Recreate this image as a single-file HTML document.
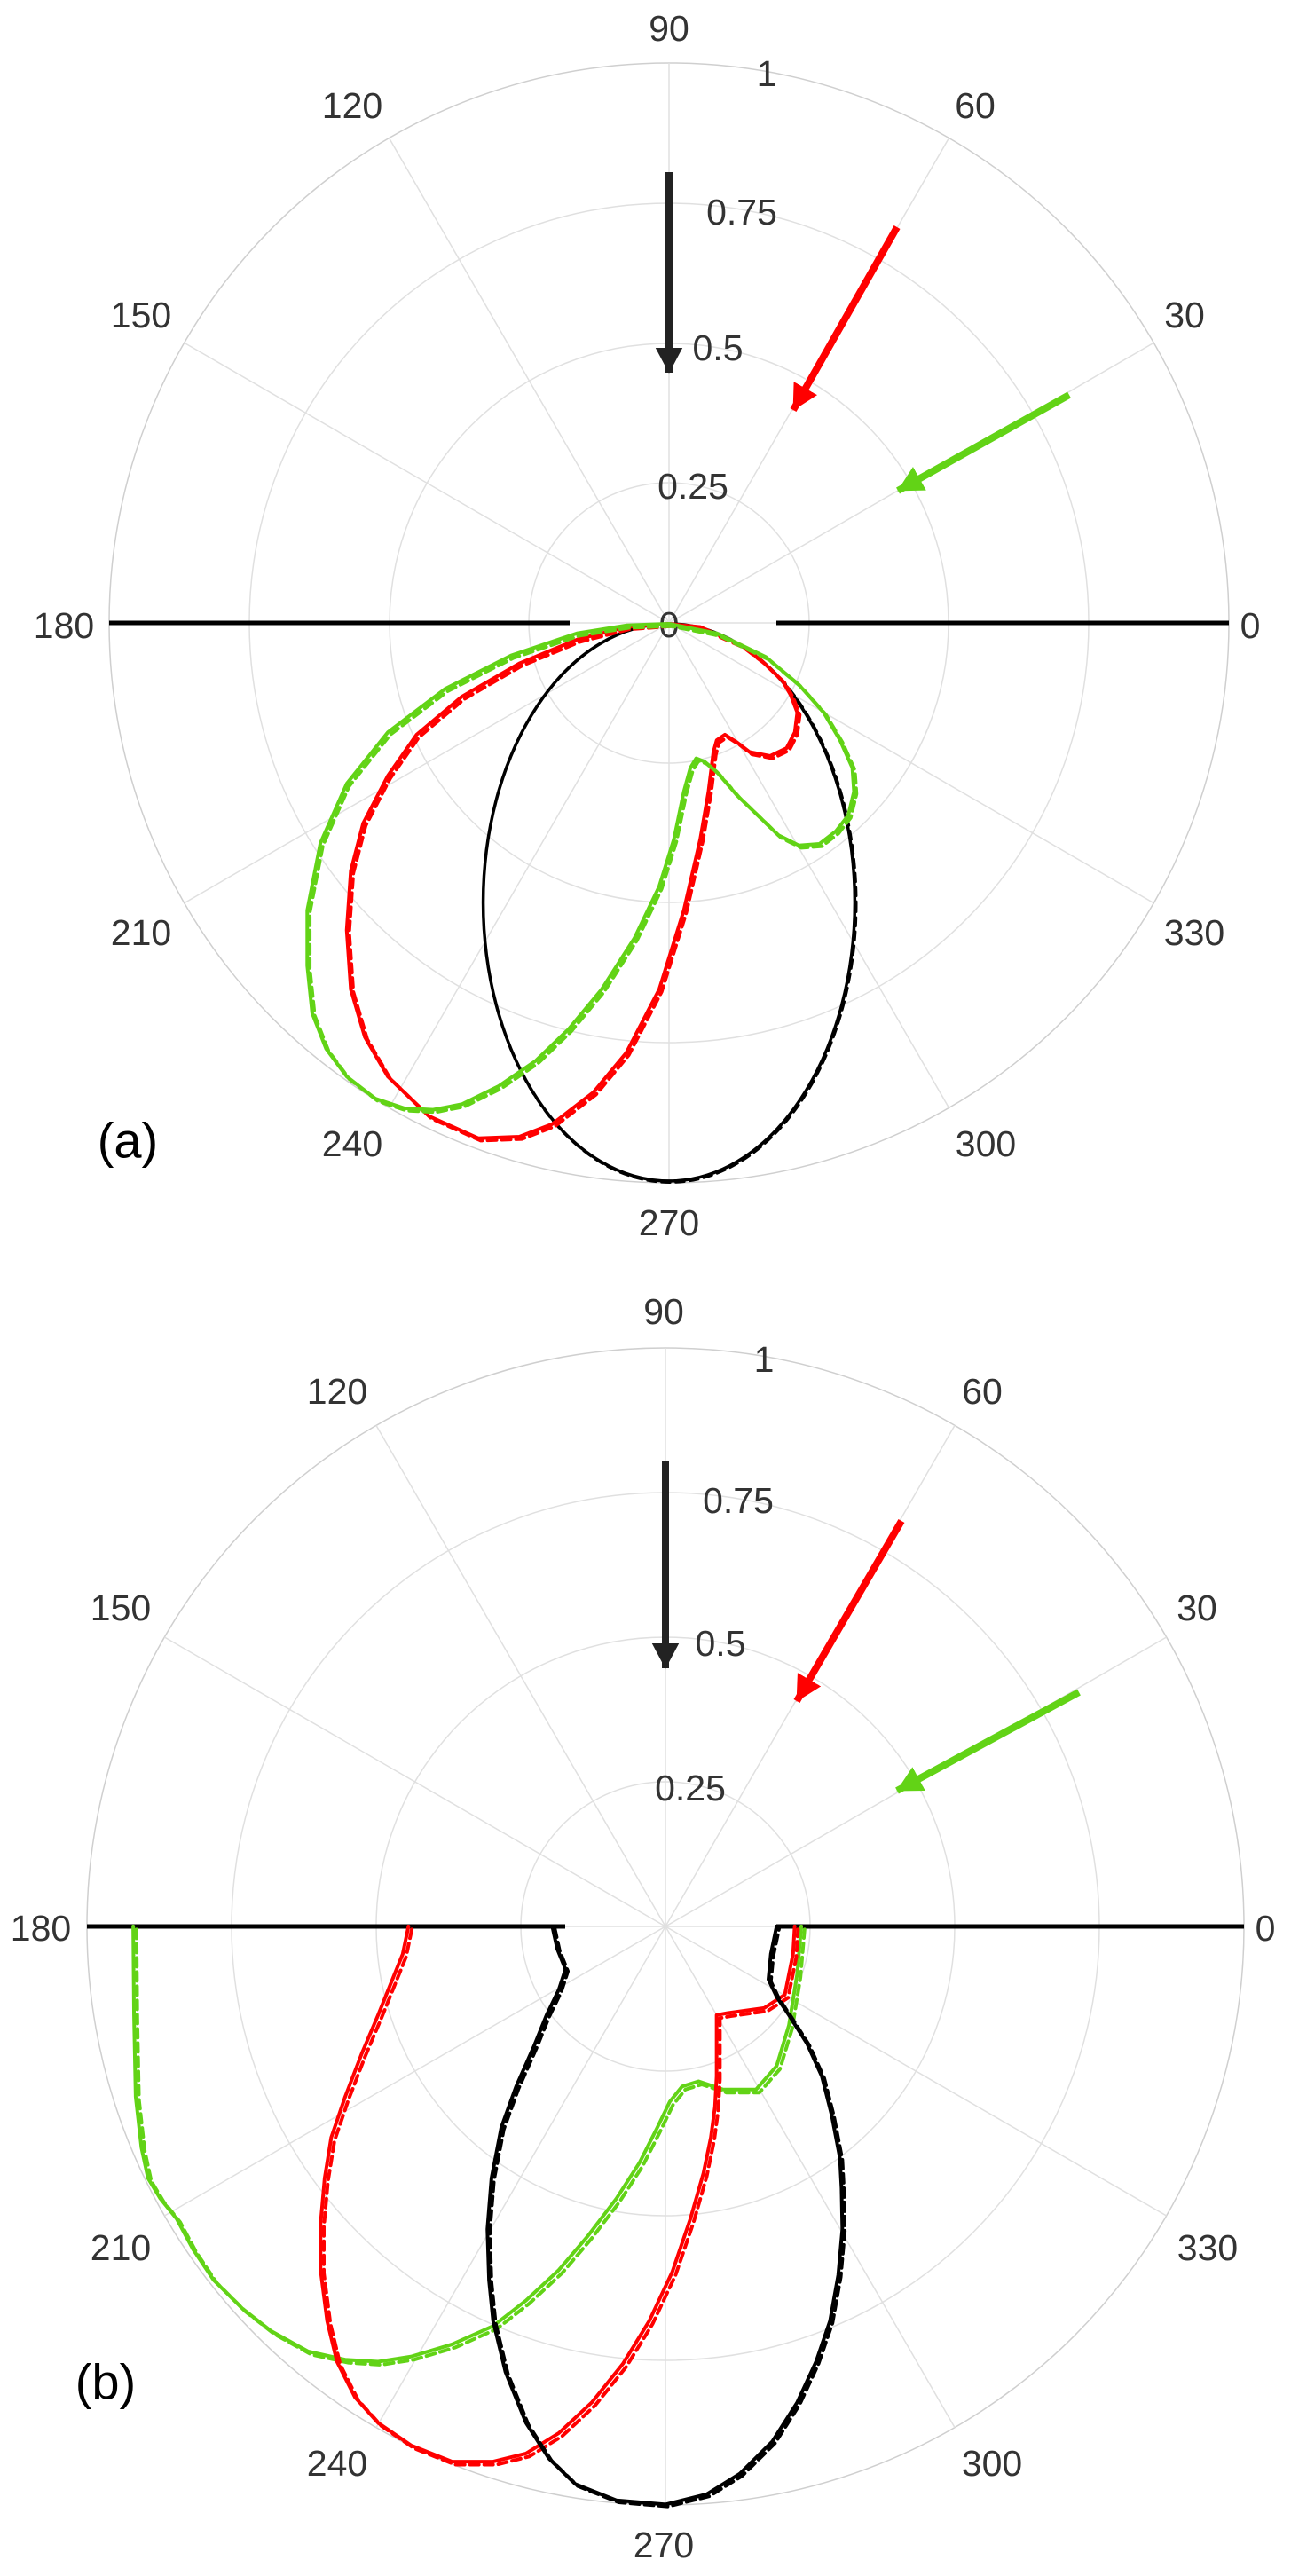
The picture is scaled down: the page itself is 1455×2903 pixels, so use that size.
<!DOCTYPE html>
<html><head><meta charset="utf-8">
<style>
html,body{margin:0;padding:0;background:#fff;}
svg{display:block;}
text{font-family:"Liberation Sans",sans-serif;fill:#333;}
</style></head>
<body>
<svg width="1455" height="2903" viewBox="0 0 1455 2903" xmlns="http://www.w3.org/2000/svg">
<defs>
<marker id="hk" viewBox="0 0 4 4" refX="3.5" refY="2" markerWidth="4" markerHeight="4" orient="auto"><path d="M0,0.1 L3.6,2 L0,3.9 z" fill="#222"/></marker>
<marker id="hr" viewBox="0 0 4 4" refX="3.5" refY="2" markerWidth="4" markerHeight="4" orient="auto"><path d="M0,0.1 L3.6,2 L0,3.9 z" fill="#ff0000"/></marker>
<marker id="hg" viewBox="0 0 4 4" refX="3.5" refY="2" markerWidth="4" markerHeight="4" orient="auto"><path d="M0,0.1 L3.6,2 L0,3.9 z" fill="#62d316"/></marker>
</defs>

<!-- ===== Plot (a) ===== -->
<g fill="none" stroke="#e0e0e0" stroke-width="1.5">
<circle cx="754" cy="702" r="158"/><circle cx="754" cy="702" r="315"/><circle cx="754" cy="702" r="473"/>
<circle cx="754" cy="702" r="631" stroke="#cfcfcf"/>
<line x1="123" y1="702" x2="1385" y2="702"/>
<line x1="754" y1="71" x2="754" y2="1333"/>
<line x1="1300" y1="386.5" x2="208" y2="1017.5"/>
<line x1="1300" y1="1017.5" x2="208" y2="386.5"/>
<line x1="1069.5" y1="155.5" x2="438.5" y2="1248.5"/>
<line x1="438.5" y1="155.5" x2="1069.5" y2="1248.5"/>
</g>
<g font-size="41" text-anchor="middle" dominant-baseline="central">
<text x="754" y="32">90</text><text x="397" y="119">120</text><text x="1099" y="119">60</text>
<text x="159" y="355">150</text><text x="1335" y="355">30</text>
<text x="72" y="705">180</text><text x="1409" y="705">0</text>
<text x="159" y="1051">210</text><text x="1346" y="1051">330</text>
<text x="397" y="1289">240</text><text x="1111" y="1289">300</text>
<text x="754" y="1378">270</text>
<text x="864" y="83">1</text><text x="836" y="239">0.75</text><text x="809" y="392">0.5</text>
<text x="781" y="548">0.25</text><text x="754" y="704">0</text>
</g>
<text x="144" y="1285" font-size="56" text-anchor="middle" dominant-baseline="central" style="fill:#000">(a)</text>
<g stroke="#000" stroke-width="5"><line x1="123" y1="702" x2="642" y2="702"/><line x1="875" y1="702" x2="1385" y2="702"/></g>
<line x1="754" y1="194" x2="754" y2="420" stroke="#222" stroke-width="8" marker-end="url(#hk)"/>
<line x1="1011" y1="256" x2="894" y2="462" stroke="#ff0000" stroke-width="8" marker-end="url(#hr)"/>
<line x1="1205" y1="445" x2="1012" y2="553" stroke="#62d316" stroke-width="8" marker-end="url(#hg)"/>
<g transform="matrix(0.9266 0 0 0.8919 1.6 0.2)" fill="none" stroke-linejoin="round" stroke-linecap="round">
<ellipse cx="812" cy="1140" rx="226" ry="352" stroke="#000" stroke-width="3.5" vector-effect="non-scaling-stroke"/>
<ellipse cx="813" cy="1141" rx="227" ry="353" stroke="#000" stroke-width="2.5" stroke-dasharray="10 6" vector-effect="non-scaling-stroke"/>
<polyline id="ra" vector-effect="non-scaling-stroke" stroke="#ff0000" stroke-width="4" points="812,788 760,792 700,808 630,838 560,880 505,928 470,980 440,1040 425,1100 420,1175 425,1250 442,1310 470,1360 520,1410 580,1438 630,1436 670,1420 720,1380 760,1330 800,1250 830,1150 850,1060 860,1000 866,950 870,935 880,928 895,938 910,950 935,955 955,945 965,925 968,900 960,878 950,860 925,835 900,815 850,792 812,788"/>
<use href="#ra" transform="translate(3 3)" stroke-dasharray="10 6" style="stroke-width:2.5"/>
<polyline id="ga" vector-effect="non-scaling-stroke" stroke="#62d316" stroke-width="4" points="812,788 760,790 700,800 620,828 540,870 470,925 420,990 388,1065 372,1150 372,1220 378,1280 395,1325 420,1360 455,1388 490,1400 525,1402 560,1395 605,1372 650,1340 690,1300 730,1250 770,1185 800,1120 818,1060 830,1000 838,970 845,958 855,962 870,975 895,1005 920,1030 945,1055 970,1068 995,1066 1015,1050 1030,1030 1037,1000 1035,970 1020,935 1000,900 970,865 930,830 870,800 812,788"/>
<use href="#ga" transform="translate(3 3)" stroke-dasharray="10 6"/>
</g>

<!-- ===== Plot (b) ===== -->
<g fill="none" stroke="#e0e0e0" stroke-width="1.5">
<circle cx="750" cy="2171" r="163"/><circle cx="750" cy="2171" r="326"/><circle cx="750" cy="2171" r="489"/>
<circle cx="750" cy="2171" r="652" stroke="#cfcfcf"/>
<line x1="98" y1="2171" x2="1402" y2="2171"/>
<line x1="750" y1="1519" x2="750" y2="2823"/>
<line x1="1314.6" y1="1845" x2="185.4" y2="2497"/>
<line x1="1314.6" y1="2497" x2="185.4" y2="1845"/>
<line x1="1076" y1="1606.4" x2="424" y2="2735.6"/>
<line x1="424" y1="1606.4" x2="1076" y2="2735.6"/>
</g>
<g font-size="41" text-anchor="middle" dominant-baseline="central">
<text x="748" y="1478">90</text><text x="380" y="1568">120</text><text x="1107" y="1568">60</text>
<text x="136" y="1812">150</text><text x="1349" y="1812">30</text>
<text x="46" y="2173">180</text><text x="1426" y="2173">0</text>
<text x="136" y="2533">210</text><text x="1361" y="2533">330</text>
<text x="380" y="2776">240</text><text x="1118" y="2776">300</text>
<text x="748" y="2868">270</text>
<text x="861" y="1532">1</text><text x="832" y="1691">0.75</text><text x="812" y="1852">0.5</text>
<text x="778" y="2015">0.25</text>
</g>
<text x="119" y="2684" font-size="56" text-anchor="middle" dominant-baseline="central" style="fill:#000">(b)</text>
<g stroke="#000" stroke-width="5"><line x1="98" y1="2171" x2="637" y2="2171"/><line x1="875" y1="2171" x2="1402" y2="2171"/></g>
<line x1="750" y1="1647" x2="750" y2="1880" stroke="#222" stroke-width="8" marker-end="url(#hk)"/>
<line x1="1016" y1="1714" x2="898" y2="1917" stroke="#ff0000" stroke-width="8" marker-end="url(#hr)"/>
<line x1="1216" y1="1907" x2="1011" y2="2018" stroke="#62d316" stroke-width="8" marker-end="url(#hg)"/>
<g transform="matrix(0.9261 0 0 1.1489 0.1 1099)" fill="none" stroke-linejoin="round" stroke-linecap="round">
<polyline id="gb" vector-effect="non-scaling-stroke" stroke="#62d316" stroke-width="4" points="162,933 163,1020 165,1100 172,1150 180,1180 195,1200 215,1220 235,1250 260,1280 295,1308 330,1330 375,1350 420,1358 460,1360 500,1355 550,1343 600,1325 640,1300 680,1270 715,1237 750,1200 778,1165 800,1130 815,1105 830,1090 850,1085 880,1093 920,1093 945,1070 960,1030 970,980 975,933"/>
<use href="#gb" transform="translate(4 3)" stroke-dasharray="10 6"/>
<polyline id="rb" vector-effect="non-scaling-stroke" stroke="#ff0000" stroke-width="4" points="497,933 490,960 475,990 460,1020 440,1058 420,1100 403,1140 395,1180 390,1225 390,1270 398,1320 410,1360 432,1395 460,1420 500,1442 550,1458 600,1458 640,1450 680,1430 720,1400 758,1362 790,1320 818,1272 840,1220 856,1175 865,1140 870,1110 872,1080 872,1020 885,1018 930,1013 955,1000 965,960 967,933"/>
<use href="#rb" transform="translate(4 3)" stroke-dasharray="10 6"/>
<polyline id="kb" vector-effect="non-scaling-stroke" stroke="#000" stroke-width="4" points="672,933 678,955 688,975 680,995 665,1020 650,1050 628,1090 610,1130 598,1180 593,1230 595,1280 600,1320 615,1370 640,1420 668,1455 700,1480 750,1496 810,1500 860,1490 900,1470 940,1438 970,1400 993,1360 1010,1320 1020,1275 1025,1230 1024,1190 1022,1160 1012,1118 1000,1080 982,1048 960,1020 945,1002 935,985 938,960 945,933"/>
<use href="#kb" transform="translate(3 2)" stroke-dasharray="10 6"/>
</g>
</svg>
</body></html>
